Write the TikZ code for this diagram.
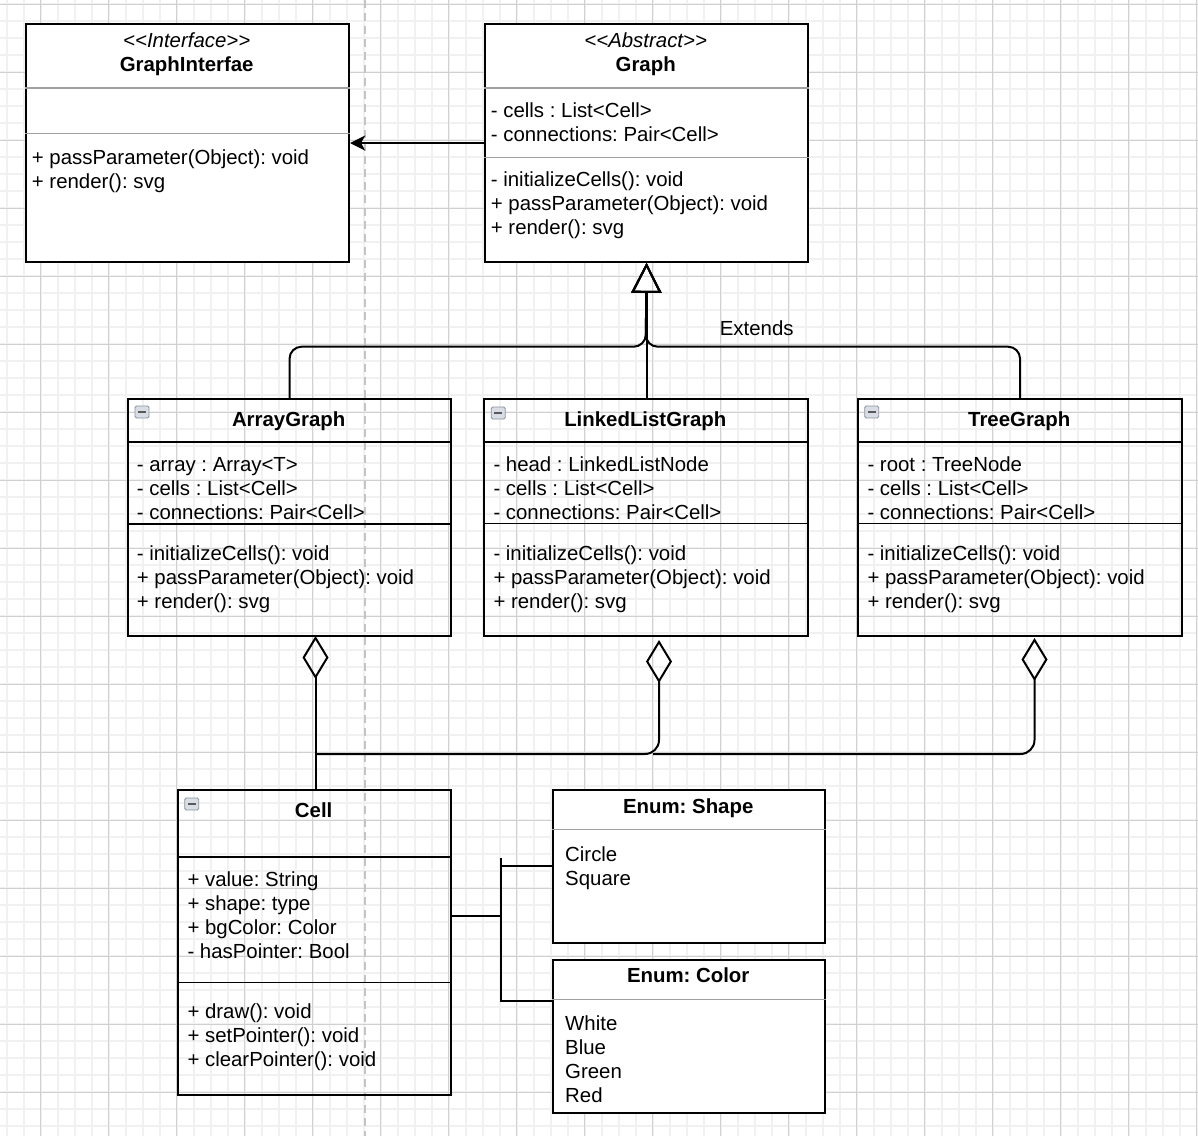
\documentclass[tikz,border=0pt]{standalone}
\usepackage{fontspec}
\usepackage{xcolor}
\usepackage{tikz}
\usetikzlibrary{arrows.meta}
\newfontfamily\umlfont{Liberation Sans}
\frenchspacing
\definecolor{gridmajor}{HTML}{D0D0D0}
\definecolor{gridminor}{HTML}{F1F1F1}
\definecolor{guide}{HTML}{C4C4C4}
\definecolor{divider}{HTML}{A0A0A0}
\definecolor{iconfill}{HTML}{D9DEE6}
\definecolor{iconline}{HTML}{8C939E}
\tikzset{
  minorline/.style={draw=gridminor, line width=1.6pt},
  majorline/.style={draw=gridmajor, line width=1pt},
  guideline/.style={draw=guide, line width=1.5pt, dash pattern=on 8pt off 5pt},
  classbox/.style={draw=black, line width=1.8pt, anchor=north west, inner sep=0pt},
  solidbox/.style={classbox, fill=white},
  sepgray/.style={draw=divider, line width=1.6pt},
  sepdark/.style={draw=black, line width=1.6pt},
  member/.style={font=\umlfont\frenchspacing\fontsize{20.4}{24}\selectfont, inner sep=0pt, anchor=base west},
  clsname/.style={member, font=\umlfont\frenchspacing\bfseries\fontsize{20.4}{24}\selectfont, anchor=base},
  stereo/.style={member, font=\umlfont\frenchspacing\itshape\fontsize{20.4}{24}\selectfont, anchor=base},
  icon/.style={draw=iconline, fill=iconfill, line width=0.9pt, rounded corners=1.5pt, minimum width=14pt, minimum height=12pt, inner sep=0pt},
  ext/.style={draw=black, line width=2pt, -{Triangle[open, length=30pt, width=30pt]}},
  aggr/.style={draw=black, line width=2pt, -{Diamond[open, length=43pt, width=26pt]}},
  dep/.style={draw=black, line width=2pt, -{Stealth[length=15pt, width=15pt, inset=4pt]}},
  assoc/.style={draw=black, line width=2pt}
}

\begin{document}
\begin{tikzpicture}[x=1pt, y=-1pt]
  % background and grid
  \fill[white] (0,0) rectangle (1198,1136);
  \useasboundingbox (0,0) rectangle (1198,1136);
  \begin{scope}
    \clip (0,0) rectangle (1198,1136);
    \foreach \gx in {0,...,70} \draw[minorline] (6.7+17*\gx,0) -- (6.7+17*\gx,1136);
    \foreach \gy in {0,...,66} \draw[minorline] (0,4+17*\gy) -- (1198,4+17*\gy);
    \foreach \gx in {0,...,17} \draw[majorline] (40.7+68*\gx,0) -- (40.7+68*\gx,1136);
    \foreach \gy in {0,...,16} \draw[majorline] (0,4+68*\gy) -- (1198,4+68*\gy);
  \end{scope}
  \draw[guideline] (365,0) -- (365,1136);

  % interface
  \node[solidbox, minimum width=323.3pt, minimum height=237.7pt] (iface) at (25,23.3) {};
  \draw[sepgray] (iface.west |- 0,87.7) -- (iface.east |- 0,87.7);
  \draw[sepgray] (iface.west |- 0,133.3) -- (iface.east |- 0,133.3);
  \node[stereo] (ifaceSt) at (186.7,47.3) {<<Interface>>};
  \node[clsname] (ifaceNm) at (186.7,71.7) {GraphInterfae};
  \foreach \s [count=\i from 0] in {+ passParameter(Object): void, + render(): svg}
    \node[member] (ifaceM\i) at (31.7,164+24*\i) {\s};

  % abstract graph
  \node[solidbox, minimum width=323.3pt, minimum height=237.7pt] (graph) at (484,23.3) {};
  \draw[sepgray] (graph.west |- 0,87.7) -- (graph.east |- 0,87.7);
  \draw[sepgray] (graph.west |- 0,157.3) -- (graph.east |- 0,157.3);
  \node[stereo] (graphSt) at (645.7,47.3) {<<Abstract>>};
  \node[clsname] (graphNm) at (645.7,71.7) {Graph};
  \foreach \s [count=\i from 0] in {- cells : List<Cell>, - connections: Pair<Cell>}
    \node[member] (graphA\i) at (490.7,117.3+24*\i) {\s};
  \foreach \s [count=\i from 0] in {- initializeCells(): void, + passParameter(Object): void, + render(): svg}
    \node[member] (graphM\i) at (490.7,186.7+24*\i) {\s};

  % array graph
  \node[classbox, minimum width=322.7pt, minimum height=236.7pt] (arr) at (127.3,398.3) {};
  \draw[sepdark] (arr.west |- 0,441.7) -- (arr.east |- 0,441.7);
  \draw[sepdark] (arr.west |- 0,524) -- (arr.east |- 0,524);
  \node[icon] (arrIcon) at (142,412) {\color{black!65}\rule{8pt}{2pt}};
  \node[clsname] (arrNm) at (288.7,426.7) {ArrayGraph};
  \foreach \s [count=\i from 0] in {- array : Array<T>, - cells : List<Cell>, - connections: Pair<Cell>}
    \node[member] (arrA\i) at (136.7,471.5+24*\i) {\s};
  \foreach \s [count=\i from 0] in {- initializeCells(): void, + passParameter(Object): void, + render(): svg}
    \node[member] (arrM\i) at (136.7,560+24*\i) {\s};

  % linked list graph
  \node[classbox, minimum width=324pt, minimum height=236.7pt] (llg) at (483.3,398.3) {};
  \draw[sepdark] (llg.west |- 0,441.7) -- (llg.east |- 0,441.7);
  \draw[sepdark] (llg.west |- 0,523.5) -- (llg.east |- 0,523.5);
  \node[icon] (llgIcon) at (498.2,413) {\color{black!65}\rule{8pt}{2pt}};
  \node[clsname] (llgNm) at (645.3,426.7) {LinkedListGraph};
  \foreach \s [count=\i from 0] in {- head : LinkedListNode, - cells : List<Cell>, - connections: Pair<Cell>}
    \node[member] (llgA\i) at (493.3,471.5+24*\i) {\s};
  \foreach \s [count=\i from 0] in {- initializeCells(): void, + passParameter(Object): void, + render(): svg}
    \node[member] (llgM\i) at (493.3,560+24*\i) {\s};

  % tree graph
  \node[classbox, minimum width=323.7pt, minimum height=236.7pt] (tree) at (857.3,398.3) {};
  \draw[sepdark] (tree.west |- 0,441.7) -- (tree.east |- 0,441.7);
  \draw[sepdark] (tree.west |- 0,523.5) -- (tree.east |- 0,523.5);
  \node[icon] (treeIcon) at (871.7,412) {\color{black!65}\rule{8pt}{2pt}};
  \node[clsname] (treeNm) at (1019.2,426.7) {TreeGraph};
  \foreach \s [count=\i from 0] in {- root : TreeNode, - cells : List<Cell>, - connections: Pair<Cell>}
    \node[member] (treeA\i) at (867.3,471.5+24*\i) {\s};
  \foreach \s [count=\i from 0] in {- initializeCells(): void, + passParameter(Object): void, + render(): svg}
    \node[member] (treeM\i) at (867.3,560+24*\i) {\s};

  % cell
  \node[classbox, minimum width=272.7pt, minimum height=305pt] (cell) at (177.3,789) {};
  \draw[sepdark] (cell.west |- 0,856.7) -- (cell.east |- 0,856.7);
  \draw[sepdark] (cell.west |- 0,982.3) -- (cell.east |- 0,982.3);
  \node[icon] (cellIcon) at (191.7,804) {\color{black!65}\rule{8pt}{2pt}};
  \node[clsname] (cellNm) at (313.7,817.7) {Cell};
  \foreach \s [count=\i from 0] in {+ value: String, + shape: type, + bgColor: Color, - hasPointer: Bool}
    \node[member] (cellA\i) at (187.3,886+24*\i) {\s};
  \foreach \s [count=\i from 0] in {+ draw(): void, + setPointer(): void, + clearPointer(): void}
    \node[member] (cellM\i) at (187.3,1018+24*\i) {\s};

  % enums
  \node[solidbox, minimum width=272.3pt, minimum height=152.7pt] (shape) at (552,789) {};
  \draw[sepgray] (shape.west |- 0,829.3) -- (shape.east |- 0,829.3);
  \node[clsname] (shapeNm) at (688.2,813.3) {Enum: Shape};
  \foreach \s [count=\i from 0] in {Circle, Square}
    \node[member] (shapeV\i) at (565,861+24*\i) {\s};

  \node[solidbox, minimum width=272.3pt, minimum height=152.7pt] (color) at (552,959) {};
  \draw[sepgray] (color.west |- 0,999.3) -- (color.east |- 0,999.3);
  \node[clsname] (colorNm) at (688.2,982.7) {Enum: Color};
  \foreach \s [count=\i from 0] in {White, Blue, Green, Red}
    \node[member] (colorV\i) at (565,1030.7+24*\i) {\s};

  % connectors
  \draw[dep] (graph.west) -- (iface.east);

  \coordinate (bus) at (645.7,346.7);
  \draw[ext] (graph.south |- llg.north) -- (graph.south);
  \draw[ext, rounded corners=12pt] (arr.north) |- (bus) -- (graph.south);
  \draw[ext, rounded corners=12pt] (tree.north) |- (bus) -- (graph.south);
  \node[member, anchor=base] (extLbl) at (756.7,335) {Extends};

  \coordinate (aggA) at (315.5,636);
  \coordinate (aggL) at (659,640);
  \coordinate (aggT) at (1034.5,638);
  \coordinate (hub) at (315.5,754);
  \coordinate (join) at (653,754);
  \draw[aggr] (cell.north -| aggA) -- (aggA);
  \draw[aggr, rounded corners=14pt] (hub) -| (aggL);
  \draw[aggr, rounded corners=14pt] (join) -| (aggT);

  \coordinate (fork) at (500.7,916);
  \draw[assoc] (cell.east |- fork) -- (fork) |- (shape.west);
  \draw[assoc] (fork) |- (color.west |- 0,1000.7);
  \draw[assoc] (fork |- shape.west) -- ++(0,-8);
\end{tikzpicture}
\end{document}
